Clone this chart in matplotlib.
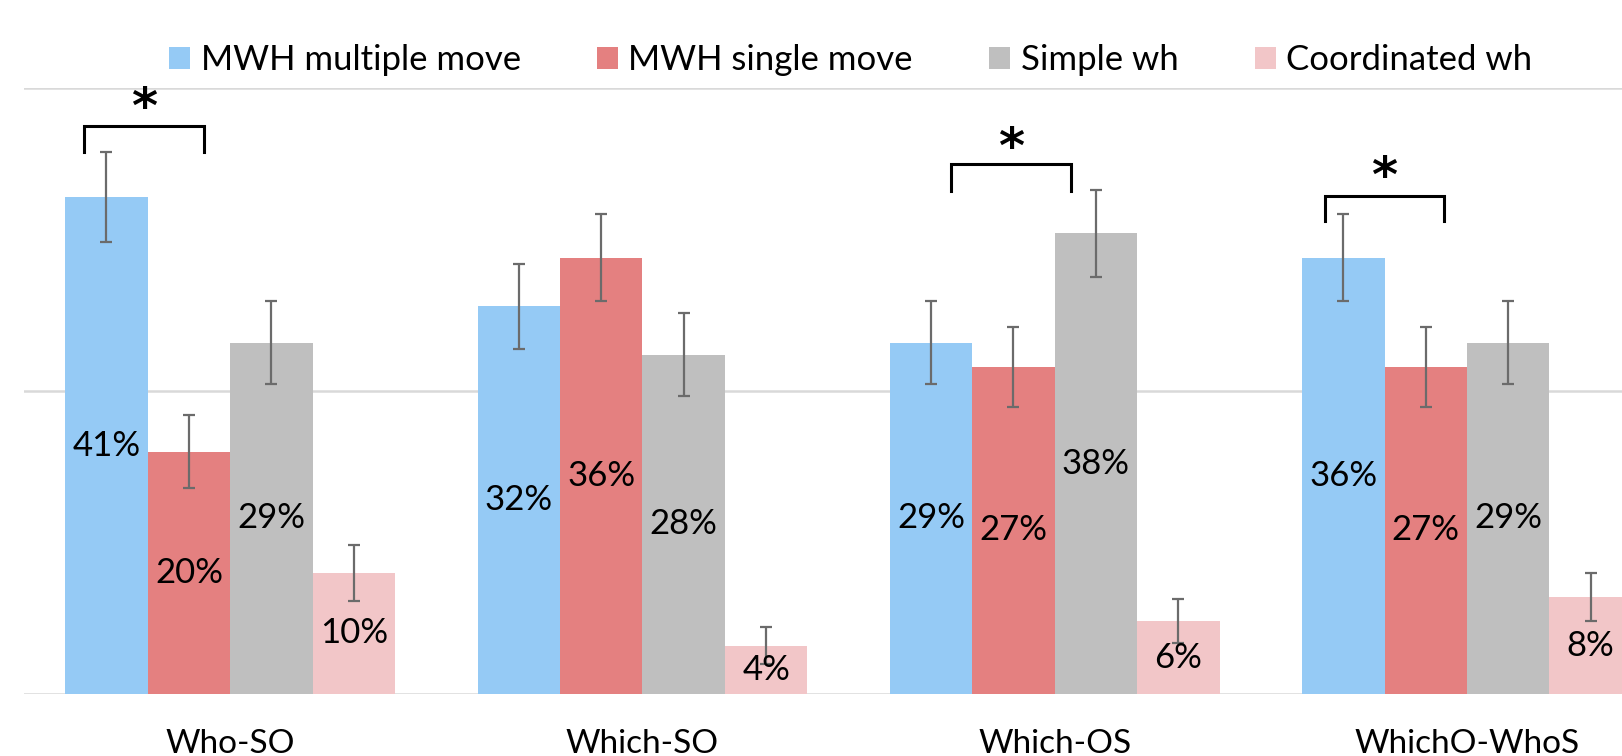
import numpy as np
import matplotlib
matplotlib.use("Agg")
import matplotlib.pyplot as plt
from matplotlib.patches import Patch

plt.rcParams["font.family"] = ["Lato", "DejaVu Sans"]

categories = ["Who-SO", "Which-SO", "Which-OS", "WhichO-WhoS"]
series = ["MWH multiple move", "MWH single move", "Simple wh", "Coordinated wh"]
colors = ["#95CAF5", "#E48080", "#BFBFBF", "#F2C6C8"]

multiple_move = [41, 32, 29, 36]
single_move = [20, 36, 27, 27]
simple_wh = [29, 28, 38, 29]
coordinated_wh = [10, 4, 6, 8]

multiple_err = [3.7, 3.5, 3.4, 3.6]
single_err = [3.0, 3.6, 3.3, 3.3]
simple_err = [3.4, 3.4, 3.6, 3.4]
coordinated_err = [2.3, 1.5, 1.8, 2.0]

# significance brackets: (x_left, x_right, y_top, y_bottom, star_y)
brackets = [
    (-0.355, -0.064, 46.9, 44.7, 49.1),
    (1.748, 2.039, 43.7, 41.5, 45.8),
    (2.655, 2.945, 41.1, 39.0, 43.4),
]

values = [multiple_move, single_move, simple_wh, coordinated_wh]
errors = [multiple_err, single_err, simple_err, coordinated_err]

fig = plt.figure(figsize=(16.22, 7.56), dpi=100)
ax = fig.add_axes([24 / 1622, 62 / 756, 1 - 24 / 1622, 606 / 756])

x = np.arange(len(categories))
width = 0.2
for i, (vals, errs) in enumerate(zip(values, errors)):
    pos = x + (i - 1.5) * width
    ax.bar(pos, vals, width, color=colors[i], zorder=2)
    ax.errorbar(pos, vals, yerr=errs, fmt="none", ecolor="#6B6B6B",
                elinewidth=1.6, capsize=4.3, capthick=1.6, zorder=3)
    for px, v in zip(pos, vals):
        ax.text(px, v / 2, f"{v}%", ha="center", va="center",
                fontsize=25, color="black", zorder=4)

for xl, xr, yt, yb, ys in brackets:
    ax.plot([xl, xl, xr, xr], [yb, yt, yt, yb], color="black", lw=2.2,
            solid_joinstyle="miter", zorder=4, clip_on=False)
    # asterisk glyph sits high in its box, so nudge it down a little
    ax.annotate("*", xy=((xl + xr) / 2, ys), xytext=(0, -7),
                textcoords="offset points", ha="center", va="center",
                fontsize=36, fontweight="bold", family="DejaVu Sans")

ax.set_xlim(-0.5, 3.376)
ax.set_ylim(0, 50)
ax.set_yticks([0, 25, 50])
ax.set_yticklabels([])
ax.tick_params(axis="y", length=0)
ax.grid(axis="y", color="#D9D9D9", lw=1.8, zorder=0)
ax.set_axisbelow(True)
ax.set_xticks(x)
ax.set_xticklabels(categories, fontsize=24)
ax.tick_params(axis="x", length=0, pad=25)
for side in ["top", "right", "left", "bottom"]:
    ax.spines[side].set_visible(False)

handles = [Patch(facecolor=c, label=s) for c, s in zip(colors, series)]
fig.legend(handles=handles, loc="center", bbox_to_anchor=(0.5245, 1 - 60 / 756),
           ncol=4, frameon=False, fontsize=25, handlelength=0.6,
           handleheight=0.6, handletextpad=0.3, columnspacing=2.2)

fig.savefig("out.png", dpi=100)
